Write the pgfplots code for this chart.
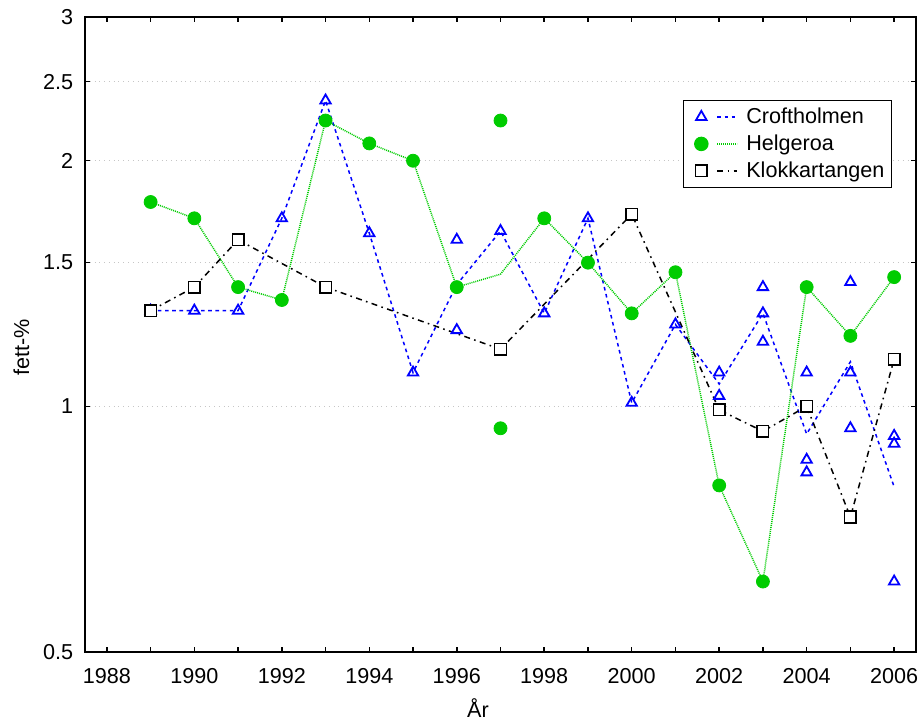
\documentclass[border=0pt]{standalone}
\usepackage{fontspec}
\setmainfont{Liberation Sans}
\usepackage{pgfplots}
\pgfplotsset{compat=1.18}
\usepackage{pgfplotstable}

\definecolor{cblue}{RGB}{0,0,255}
\definecolor{cgreen}{RGB}{0,204,0}

% individual samples
\pgfplotstableread{
x y
1989 1.31
1990 1.31
1991 1.31
1992 1.70
1993 2.37
1994 1.63
1995 1.10
1996 1.60
1996 1.24
1997 1.64
1998 1.30
1999 1.70
2000 1.01
2001 1.26
2002 1.10
2002 1.03
2003 1.40
2003 1.30
2003 1.20
2004 1.10
2004 0.86
2004 0.83
2005 1.42
2005 1.10
2005 0.94
2006 0.92
2006 0.90
2006 0.61
}\crofpts

% yearly means (line)
\pgfplotstableread{
x y
1989 1.31
1990 1.31
1991 1.31
1992 1.70
1993 2.37
1994 1.63
1995 1.10
1996 1.41
1997 1.64
1998 1.30
1999 1.70
2000 1.01
2001 1.26
2002 1.065
2003 1.30
2004 0.925
2005 1.134
2006 0.797
}\crofline

\pgfplotstableread{
x y
1989 1.78
1990 1.70
1991 1.40
1992 1.35
1993 2.24
1994 2.10
1995 2.00
1996 1.40
1997 2.24
1997 0.94
1998 1.70
1999 1.50
2000 1.30
2001 1.46
2002 0.80
2003 0.61
2004 1.40
2005 1.22
2006 1.44
}\helgpts

\pgfplotstableread{
x y
1989 1.78
1990 1.70
1991 1.40
1992 1.35
1993 2.24
1994 2.10
1995 2.00
1996 1.40
1997 1.452
1998 1.70
1999 1.50
2000 1.30
2001 1.46
2002 0.80
2003 0.61
2004 1.40
2005 1.22
2006 1.44
}\helgline

\pgfplotstableread{
x y
1989 1.31
1990 1.40
1991 1.60
1993 1.40
1997 1.175
2000 1.72
2002 0.99
2003 0.932
2004 1.00
2005 0.732
2006 1.142
}\klokpts

\begin{document}
\begin{tikzpicture}
\begin{axis}[
  name=ax,
  scale only axis,
  width=415.5bp, height=317.5bp,
  ymode=log,
  xmin=1987.5, xmax=2006.5,
  ymin=0.5, ymax=3,
  xtick={1988,1990,1992,1994,1996,1998,2000,2002,2004,2006},
  xticklabels={1988,1990,1992,1994,1996,1998,2000,2002,2004,2006},
  minor xtick={1989,1991,1993,1995,1997,1999,2001,2003,2005},
  ytick={0.5,1,1.5,2,2.5,3},
  yticklabels={0.5,1,1.5,2,2.5,3},
  tick align=inside,
  major tick length=2.5bp, minor tick length=2.5bp,
  every tick/.style={black, line width=0.75bp},
  axis line style={line width=0.8bp},
  ymajorgrids,
  major grid style={gray!45, dotted, line width=0.4bp},
  ticklabel style={font=\fontsize{10.8bp}{12bp}\selectfont},
  xticklabel style={yshift=-4.5bp},
  yticklabel style={xshift=-2.4bp},
  legend cell align=left,
  legend style={at={(0.9711,0.8693)}, anchor=north east, draw=black,
    line width=0.6bp, font=\fontsize{10.8bp}{12bp}\selectfont,
    inner sep=1.5bp, row sep=0.2bp},
]
\addplot[cblue, line width=0.75bp, dash pattern=on 1.8bp off 1.8bp,
  legend image code/.code={
    \path[draw=none] (-7.5bp,0bp) -- (20.5bp,0bp);
    \draw[cblue, solid, line width=0.9bp, mark=triangle, mark size=3bp] plot coordinates {(0bp,0bp)};
    \draw[cblue, line width=0.75bp, dash pattern=on 1.8bp off 1.8bp] (8bp,0bp) -- (18bp,0bp);}]
  table {\crofline};
\addlegendentry{Croftholmen}
\addplot[cgreen, line width=0.75bp, dash pattern=on 0.5bp off 0.5bp,
  legend image code/.code={
    \path[draw=none] (-7.5bp,0bp) -- (20.5bp,0bp);
    \draw[cgreen, solid, mark=*, mark size=3.25bp] plot coordinates {(0bp,0bp)};
    \draw[cgreen, line width=0.75bp, dash pattern=on 0.5bp off 0.5bp] (8bp,0bp) -- (18bp,0bp);}]
  table {\helgline};
\addlegendentry{Helgeroa}
\addplot[black, line width=0.75bp, dash pattern=on 3bp off 2.2bp on 0.8bp off 2.2bp,
  legend image code/.code={
    \path[draw=none] (-7.5bp,0bp) -- (20.5bp,0bp);
    \draw[black, solid, line width=0.75bp, mark=square*, mark size=2.9bp, mark options={fill=white}] plot coordinates {(0bp,0bp)};
    \draw[black, line width=0.75bp, dash pattern=on 3bp off 2.2bp on 0.8bp off 2.2bp] (8bp,0bp) -- (18bp,0bp);}]
  table {\klokpts};
\addlegendentry{Klokkartangen}

\addplot[forget plot, only marks, cblue, mark=triangle, mark size=3bp,
  mark options={solid, line width=0.9bp}] table {\crofpts};
\addplot[forget plot, only marks, cgreen, mark=*, mark size=3.25bp,
  mark options={solid}] table {\helgpts};
\addplot[forget plot, only marks, black, mark=square*, mark size=2.9bp,
  mark options={solid, fill=white, line width=0.75bp}] table {\klokpts};
\end{axis}
\node[rotate=90, font=\fontsize{10.8bp}{12bp}\selectfont]
  at ([xshift=-31.75bp, yshift=152.25bp]ax.south west) {fett-\%};
\node[anchor=base, font=\fontsize{10.8bp}{12bp}\selectfont]
  at ([xshift=196.5bp, yshift=-32.5bp]ax.south west) {År};
\pgfresetboundingbox
\path ([xshift=-42.5bp, yshift=-34bp]ax.south west) rectangle ([xshift=1.5bp, yshift=8.5bp]ax.north east);
\end{tikzpicture}
\end{document}
